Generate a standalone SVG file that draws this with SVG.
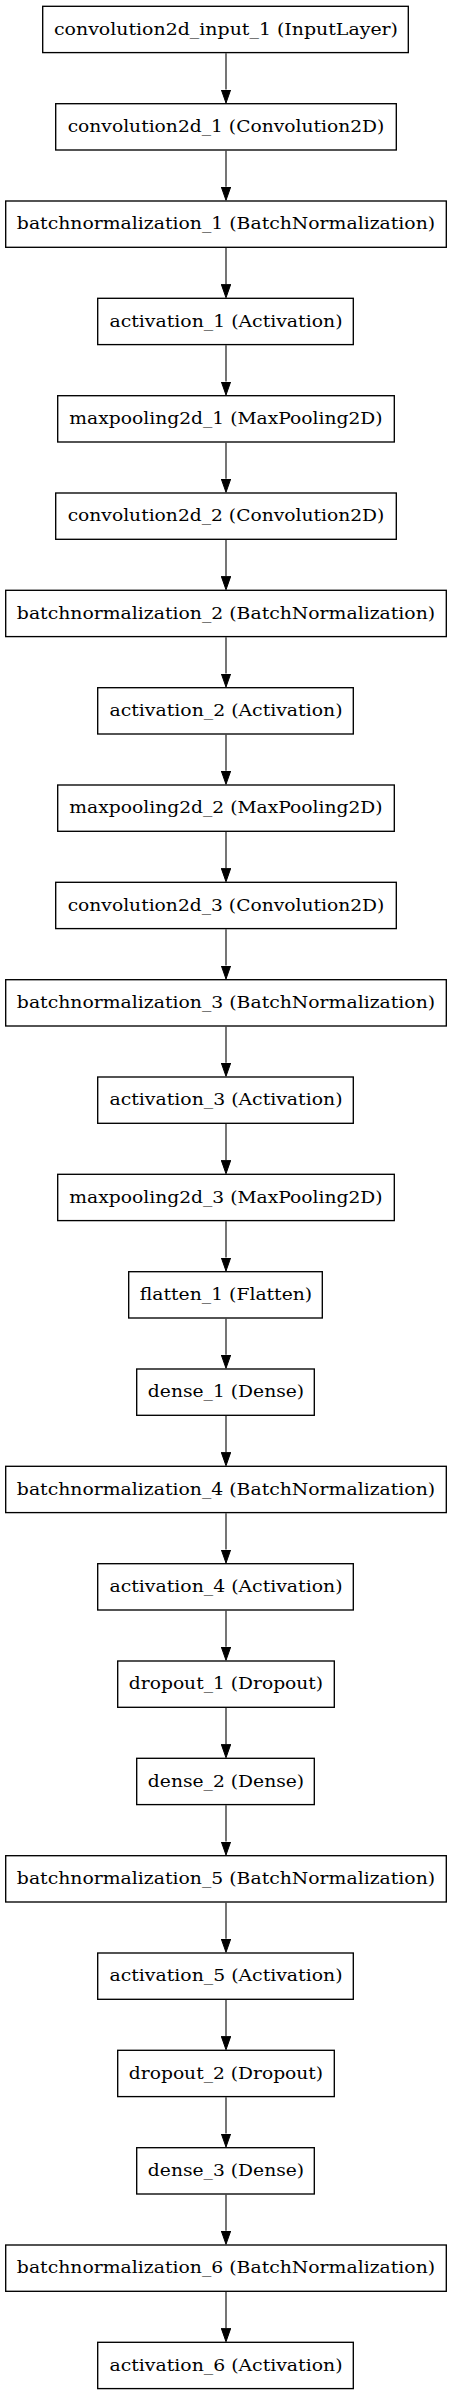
<svg xmlns="http://www.w3.org/2000/svg" width="452" height="2396" viewBox="0 0 452 2396">
<style>
.n rect{fill:#fff;stroke:#000;stroke-width:1.35}
.n text{font-family:"DejaVu Serif","Liberation Serif",serif;font-size:17.5px;fill:#000;text-anchor:middle}
.e path{fill:none;stroke:#333;stroke-width:1.35}
</style>
<defs>
<marker id="ah" markerUnits="userSpaceOnUse" markerWidth="14" markerHeight="10" refX="0" refY="4.75" orient="auto">
<path d="M0,0 L13.5,4.75 L0,9.5 z" fill="#000" stroke="#000" stroke-width="1"/>
</marker>
</defs>
<rect width="452" height="2396" fill="#fff"/>
<g id="edges" class="e">
<path d="M226,53.3 V89.5" marker-end="url(#ah)"/>
<path d="M226,150.7 V186.8" marker-end="url(#ah)"/>
<path d="M226,248 V284.2" marker-end="url(#ah)"/>
<path d="M226,345.3 V381.5" marker-end="url(#ah)"/>
<path d="M226,442.7 V478.8" marker-end="url(#ah)"/>
<path d="M226,540 V576.2" marker-end="url(#ah)"/>
<path d="M226,637.3 V673.5" marker-end="url(#ah)"/>
<path d="M226,734.7 V770.8" marker-end="url(#ah)"/>
<path d="M226,832 V868.2" marker-end="url(#ah)"/>
<path d="M226,929.3 V965.5" marker-end="url(#ah)"/>
<path d="M226,1026.7 V1062.8" marker-end="url(#ah)"/>
<path d="M226,1124 V1160.2" marker-end="url(#ah)"/>
<path d="M226,1221.3 V1257.5" marker-end="url(#ah)"/>
<path d="M226,1318.7 V1354.8" marker-end="url(#ah)"/>
<path d="M226,1416 V1452.2" marker-end="url(#ah)"/>
<path d="M226,1513.3 V1549.5" marker-end="url(#ah)"/>
<path d="M226,1610.7 V1646.8" marker-end="url(#ah)"/>
<path d="M226,1708 V1744.2" marker-end="url(#ah)"/>
<path d="M226,1805.3 V1841.5" marker-end="url(#ah)"/>
<path d="M226,1902.7 V1938.8" marker-end="url(#ah)"/>
<path d="M226,2000 V2036.2" marker-end="url(#ah)"/>
<path d="M226,2097.3 V2133.5" marker-end="url(#ah)"/>
<path d="M226,2194.7 V2230.8" marker-end="url(#ah)"/>
<path d="M226,2292 V2328.2" marker-end="url(#ah)"/>
</g>
<g id="convolution2d_input_1" class="n"><rect x="42.7" y="6.3" width="365.6" height="46.3"/><text x="226" y="34.7" textLength="344" lengthAdjust="spacingAndGlyphs">convolution2d_input_1 (InputLayer)</text></g>
<g id="convolution2d_1" class="n"><rect x="55.7" y="103.7" width="340.6" height="46.3"/><text x="226" y="132" textLength="316.7" lengthAdjust="spacingAndGlyphs">convolution2d_1 (Convolution2D)</text></g>
<g id="batchnormalization_1" class="n"><rect x="5.7" y="201" width="440.6" height="46.3"/><text x="226" y="229.3" textLength="418.3" lengthAdjust="spacingAndGlyphs">batchnormalization_1 (BatchNormalization)</text></g>
<g id="activation_1" class="n"><rect x="97.7" y="298.3" width="255.6" height="46.3"/><text x="226" y="326.7" textLength="233" lengthAdjust="spacingAndGlyphs">activation_1 (Activation)</text></g>
<g id="maxpooling2d_1" class="n"><rect x="57.7" y="395.7" width="336.6" height="46.3"/><text x="226" y="424" textLength="313.3" lengthAdjust="spacingAndGlyphs">maxpooling2d_1 (MaxPooling2D)</text></g>
<g id="convolution2d_2" class="n"><rect x="55.7" y="493" width="340.6" height="46.3"/><text x="226" y="521.3" textLength="316.7" lengthAdjust="spacingAndGlyphs">convolution2d_2 (Convolution2D)</text></g>
<g id="batchnormalization_2" class="n"><rect x="5.7" y="590.3" width="440.6" height="46.3"/><text x="226" y="618.7" textLength="418.3" lengthAdjust="spacingAndGlyphs">batchnormalization_2 (BatchNormalization)</text></g>
<g id="activation_2" class="n"><rect x="97.7" y="687.7" width="255.6" height="46.3"/><text x="226" y="716" textLength="233" lengthAdjust="spacingAndGlyphs">activation_2 (Activation)</text></g>
<g id="maxpooling2d_2" class="n"><rect x="57.7" y="785" width="336.6" height="46.3"/><text x="226" y="813.3" textLength="313.3" lengthAdjust="spacingAndGlyphs">maxpooling2d_2 (MaxPooling2D)</text></g>
<g id="convolution2d_3" class="n"><rect x="55.7" y="882.3" width="340.6" height="46.3"/><text x="226" y="910.7" textLength="316.7" lengthAdjust="spacingAndGlyphs">convolution2d_3 (Convolution2D)</text></g>
<g id="batchnormalization_3" class="n"><rect x="5.7" y="979.7" width="440.6" height="46.3"/><text x="226" y="1008" textLength="418.3" lengthAdjust="spacingAndGlyphs">batchnormalization_3 (BatchNormalization)</text></g>
<g id="activation_3" class="n"><rect x="97.7" y="1077" width="255.6" height="46.3"/><text x="226" y="1105.3" textLength="233" lengthAdjust="spacingAndGlyphs">activation_3 (Activation)</text></g>
<g id="maxpooling2d_3" class="n"><rect x="57.7" y="1174.3" width="336.6" height="46.3"/><text x="226" y="1202.7" textLength="313.3" lengthAdjust="spacingAndGlyphs">maxpooling2d_3 (MaxPooling2D)</text></g>
<g id="flatten_1" class="n"><rect x="128.7" y="1271.7" width="193.6" height="46.3"/><text x="226" y="1300" textLength="172.3" lengthAdjust="spacingAndGlyphs">flatten_1 (Flatten)</text></g>
<g id="dense_1" class="n"><rect x="136.7" y="1369" width="177.6" height="46.3"/><text x="226" y="1397.3" textLength="156.3" lengthAdjust="spacingAndGlyphs">dense_1 (Dense)</text></g>
<g id="batchnormalization_4" class="n"><rect x="5.7" y="1466.3" width="440.6" height="46.3"/><text x="226" y="1494.7" textLength="418.3" lengthAdjust="spacingAndGlyphs">batchnormalization_4 (BatchNormalization)</text></g>
<g id="activation_4" class="n"><rect x="97.7" y="1563.7" width="255.6" height="46.3"/><text x="226" y="1592" textLength="233" lengthAdjust="spacingAndGlyphs">activation_4 (Activation)</text></g>
<g id="dropout_1" class="n"><rect x="117.7" y="1661" width="216.6" height="46.3"/><text x="226" y="1689.3" textLength="194.3" lengthAdjust="spacingAndGlyphs">dropout_1 (Dropout)</text></g>
<g id="dense_2" class="n"><rect x="136.7" y="1758.3" width="177.6" height="46.3"/><text x="226" y="1786.7" textLength="156.3" lengthAdjust="spacingAndGlyphs">dense_2 (Dense)</text></g>
<g id="batchnormalization_5" class="n"><rect x="5.7" y="1855.7" width="440.6" height="46.3"/><text x="226" y="1884" textLength="418.3" lengthAdjust="spacingAndGlyphs">batchnormalization_5 (BatchNormalization)</text></g>
<g id="activation_5" class="n"><rect x="97.7" y="1953" width="255.6" height="46.3"/><text x="226" y="1981.3" textLength="233" lengthAdjust="spacingAndGlyphs">activation_5 (Activation)</text></g>
<g id="dropout_2" class="n"><rect x="117.7" y="2050.3" width="216.6" height="46.3"/><text x="226" y="2078.7" textLength="194.3" lengthAdjust="spacingAndGlyphs">dropout_2 (Dropout)</text></g>
<g id="dense_3" class="n"><rect x="136.7" y="2147.7" width="177.6" height="46.3"/><text x="226" y="2176" textLength="156.3" lengthAdjust="spacingAndGlyphs">dense_3 (Dense)</text></g>
<g id="batchnormalization_6" class="n"><rect x="5.7" y="2245" width="440.6" height="46.3"/><text x="226" y="2273.3" textLength="418.3" lengthAdjust="spacingAndGlyphs">batchnormalization_6 (BatchNormalization)</text></g>
<g id="activation_6" class="n"><rect x="97.7" y="2342.3" width="255.6" height="46.3"/><text x="226" y="2370.7" textLength="233" lengthAdjust="spacingAndGlyphs">activation_6 (Activation)</text></g>
</svg>
